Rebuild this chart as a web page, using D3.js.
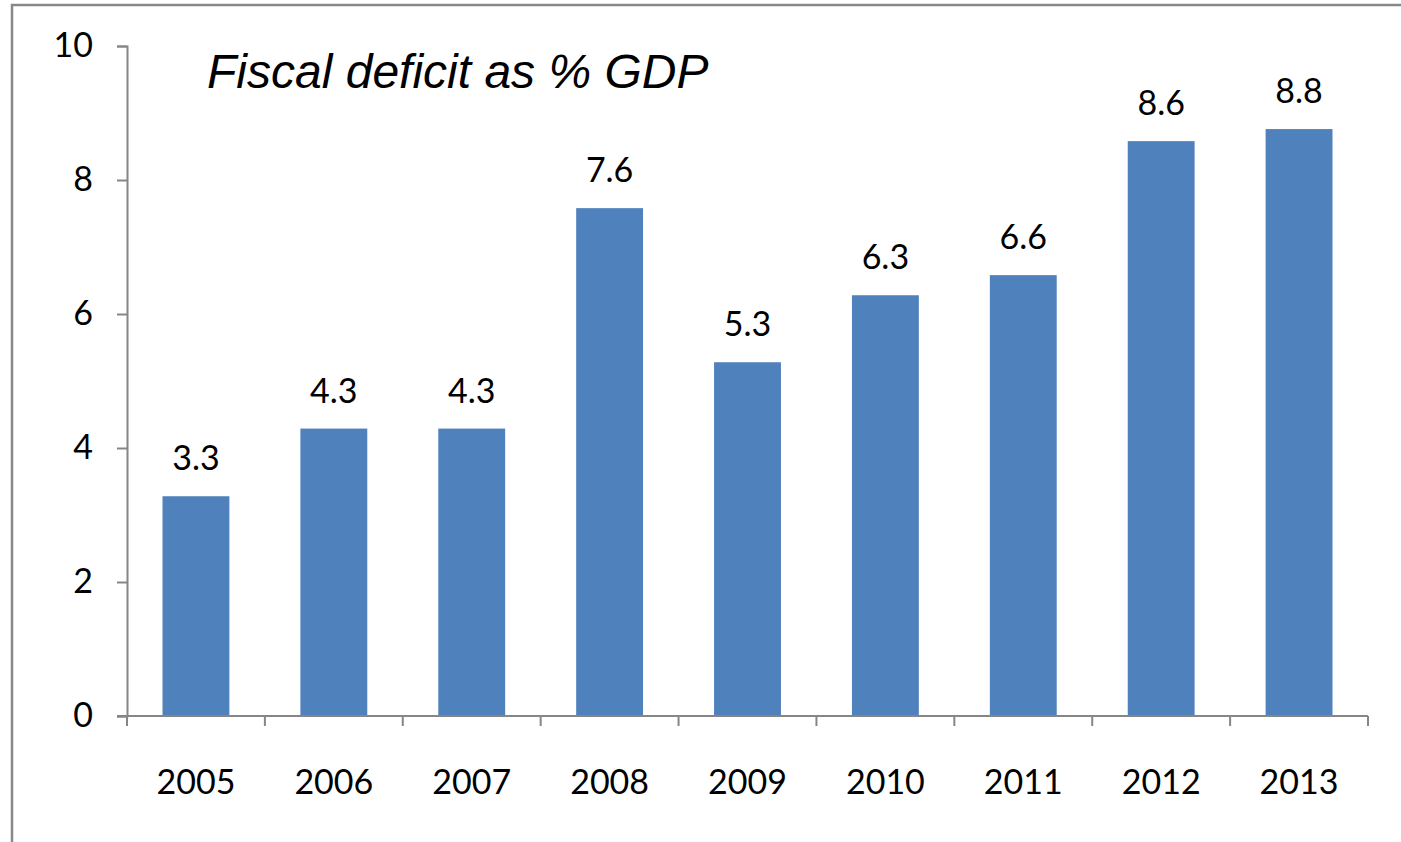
<!DOCTYPE html>
<html lang="en">
<head>
<meta charset="utf-8">
<script src="https://d3js.org/d3.v7.min.js"></script>
<style>
  body { margin: 0; background: #fff; }
  text { font-family: Lato, "Open Sans", sans-serif; fill: #000; }
</style>
</head>
<body>
<script>
// chart data
var years = ["2005", "2006", "2007", "2008", "2009", "2010", "2011", "2012", "2013"];
var deficit = [3.28, 4.29, 4.29, 7.58, 5.28, 6.28, 6.58, 8.58, 8.76];
var yTicks = [0, 2, 4, 6, 8, 10];

var width = 1401, height = 842;
var plotLeft = 127, plotRight = 1368, plotTop = 46, plotBottom = 716;
var fs = 34;

var svg = d3.select("body").append("svg")
  .attr("width", width)
  .attr("height", height);

// cropped outer frame (only left and top edges visible)
svg.append("rect")
  .attr("x", 12).attr("y", 5)
  .attr("width", 1500).attr("height", 1000)
  .attr("fill", "none")
  .attr("stroke", "#888")
  .attr("stroke-width", 2.5);

var x = d3.scaleBand()
  .domain(years)
  .range([plotLeft, plotRight])
  .paddingInner(0.515)
  .paddingOuter(0.2575);

var y = d3.scaleLinear()
  .domain([0, 10])
  .range([plotBottom, plotTop]);

// bars
svg.selectAll("rect.bar")
  .data(deficit)
  .join("rect")
  .attr("class", "bar")
  .attr("x", function (d, i) { return x(years[i]); })
  .attr("y", function (d) { return y(d); })
  .attr("width", x.bandwidth())
  .attr("height", function (d) { return y(0) - y(d); })
  .attr("fill", "#4F81BD");

// value labels
svg.selectAll("text.val")
  .data(deficit)
  .join("text")
  .attr("class", "val")
  .attr("x", function (d, i) { return x(years[i]) + x.bandwidth() / 2; })
  .attr("y", function (d) { return y(d) - 26; })
  .attr("text-anchor", "middle")
  .attr("font-size", fs)
  .text(function (d) { return d.toFixed(1); });

// y axis
var yAxis = svg.append("g")
  .attr("transform", "translate(" + plotLeft + ",0)")
  .call(d3.axisLeft(y).tickValues(yTicks).tickSize(10).tickSizeOuter(10).tickPadding(24));
yAxis.selectAll("path, line").attr("stroke", "#868686").attr("stroke-width", 2);
yAxis.selectAll("text").attr("font-size", fs).attr("fill", "#000")
  .style("font-family", "Lato, 'Open Sans', sans-serif");

// x axis, ticks at category boundaries
var step = x.step();
var bounds = d3.range(years.length + 1).map(function (i) { return plotLeft + i * step; });
var xg = svg.append("g");
xg.append("line")
  .attr("x1", plotLeft - 10).attr("x2", plotRight)
  .attr("y1", plotBottom).attr("y2", plotBottom)
  .attr("stroke", "#868686").attr("stroke-width", 2);
xg.selectAll("line.tick")
  .data(bounds)
  .join("line")
  .attr("class", "tick")
  .attr("x1", function (d) { return d; })
  .attr("x2", function (d) { return d; })
  .attr("y1", plotBottom).attr("y2", plotBottom + 10)
  .attr("stroke", "#868686").attr("stroke-width", 2);
xg.selectAll("text")
  .data(years)
  .join("text")
  .attr("x", function (d) { return x(d) + x.bandwidth() / 2; })
  .attr("y", 794)
  .attr("text-anchor", "middle")
  .attr("font-size", fs)
  .text(function (d) { return d; });

// title
svg.append("text")
  .attr("x", 207)
  .attr("y", 88)
  .attr("font-size", 48)
  .attr("font-style", "italic")
  .style("font-family", "'Liberation Sans', Arial, sans-serif")
  .text("Fiscal deficit as % GDP");
</script>
</body>
</html>
